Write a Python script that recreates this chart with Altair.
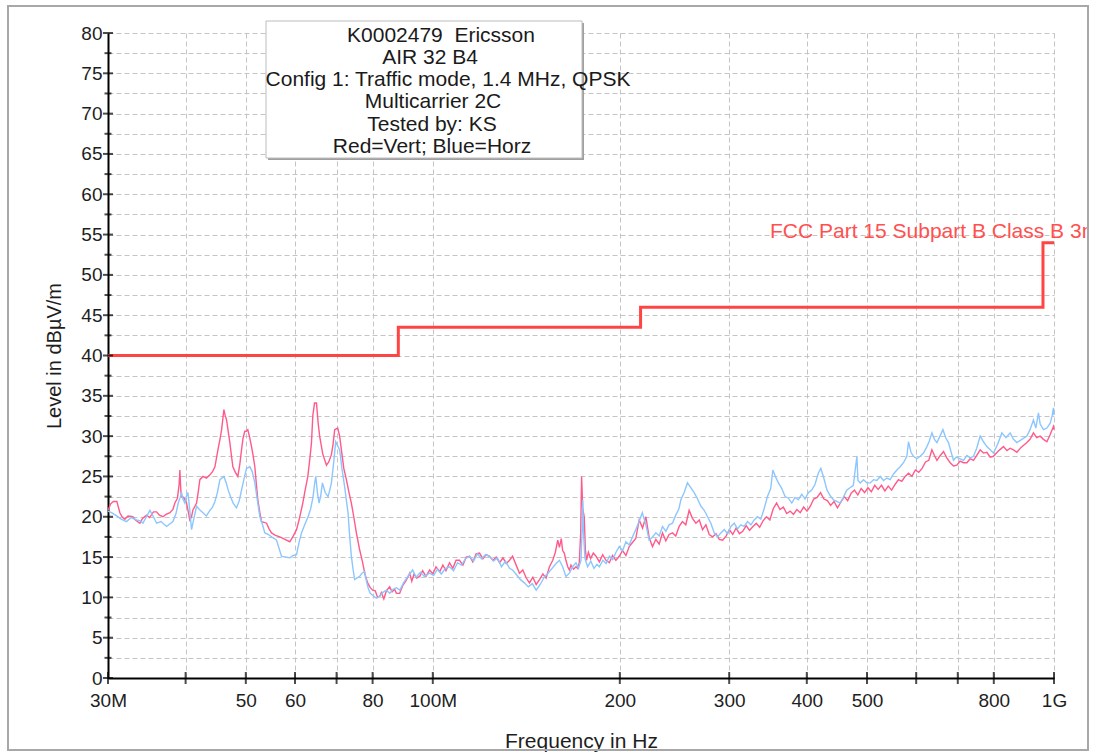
import altair as alt
import pandas as pd

# ---------------- data (MHz, dBuV/m) ----------------
VERT_F = [30.0, 30.3, 30.6, 31.0, 31.35, 31.6, 31.93, 32.3, 32.89, 33.2, 33.76, 34.1, 34.61, 35.0, 35.5, 35.92,
          36.3, 36.77, 37.2, 37.74, 38.16, 38.44, 38.8, 39.05, 39.16, 39.3, 39.41, 39.7, 40.14, 40.4, 40.63, 40.89,
          41.09, 41.4, 41.66, 41.9, 42.17, 42.65, 43.2, 43.77, 44.2, 44.59, 45.09, 45.43, 45.71, 46.1, 46.3, 46.56,
          46.84, 47.13, 47.4, 47.66, 48.1, 48.54, 48.9, 49.21, 49.5, 49.82, 50.1, 50.37, 50.7, 51.07, 51.4, 51.7,
          52.0, 52.28, 52.67, 53.0, 53.5, 54.0, 54.5, 55.0, 55.8, 56.72, 57.8, 58.86, 59.6, 60.34, 61.0, 61.76,
          62.3, 62.92, 63.4, 63.78, 64.09, 64.5, 64.97, 65.4, 65.77, 66.5, 67.42, 68.0, 68.67, 69.1, 69.51, 70.29,
          70.8, 71.26, 71.9, 72.59, 73.3, 73.94, 74.6, 75.33, 76.2, 77.1, 77.8, 78.54, 79.3, 80.01, 80.8, 81.5,
          82.12, 82.63, 83.4, 84.18, 85.22, 86.0, 86.8, 87.37, 88.44, 89.5, 90.6, 91.78, 92.5, 93.3, 94.2, 95.24,
          96.3, 97.5, 98.84, 100.0, 101.2, 102.6, 103.8, 105.0, 106.4, 107.7, 109.0, 110.4, 111.8, 113.2, 114.6,
          116.0, 117.4, 118.9, 120.4, 121.9, 123.4, 125.0, 126.5, 128.1, 129.7, 131.3, 132.9, 134.4, 136.2, 137.9,
          139.6, 141.4, 143.1, 144.9, 146.7, 148.5, 150.4, 152.2, 154.1, 156.0, 157.5, 158.9, 159.9, 161.0, 161.8,
          162.8, 163.8, 164.9, 165.9, 166.9, 168.5, 170.0, 171.1, 172.1, 173.0, 173.6, 174.3, 175.3, 176.0, 176.8,
          178.0, 179.5, 181.3, 183.1, 185.4, 187.7, 190.0, 192.4, 194.7, 197.1, 199.6, 202.0, 204.6, 207.1, 209.6,
          212.2, 214.9, 217.6, 220.3, 223.0, 225.8, 228.6, 231.4, 234.3, 237.2, 240.1, 243.1, 246.1, 249.2, 252.3,
          255.4, 258.6, 261.8, 265.2, 268.5, 271.8, 275.2, 278.6, 282.1, 285.6, 289.2, 292.8, 296.5, 300.2, 304.0,
          307.8, 311.6, 315.5, 319.5, 323.5, 327.6, 331.7, 335.9, 340.1, 344.4, 348.8, 353.2, 357.6, 362.1, 366.7,
          371.3, 376.0, 380.7, 385.5, 390.4, 395.3, 400.3, 405.3, 410.4, 415.6, 420.9, 426.2, 431.6, 437.0, 442.5,
          448.1, 453.8, 459.6, 465.4, 471.3, 477.2, 483.2, 489.3, 495.5, 501.8, 508.1, 514.5, 521.0, 527.6, 534.3,
          541.0, 547.8, 554.8, 561.8, 568.8, 576.0, 583.3, 590.6, 598.1, 605.6, 613.3, 621.0, 628.8, 636.0, 642.0,
          648.0, 656.0, 664.0, 672.0, 680.6, 689.0, 697.7, 706.0, 715.0, 724.1, 733.0, 742.0, 751.0, 760.6, 770.0,
          779.7, 789.3, 799.0, 812.0, 829.2, 840.0, 850.0, 860.5, 871.4, 885.0, 904.3, 915.0, 926.6, 938.0, 950.0,
          961.7, 974.0, 986.0, 998.0, 1000.0]
VERT_V = [20.8, 21.6, 21.9, 21.9, 20.5, 20.0, 19.7, 20.1, 20.0, 19.6, 19.2, 19.8, 20.2, 19.9, 20.6, 20.6,
          20.2, 20.0, 20.3, 20.5, 20.9, 21.7, 22.3, 24.0, 25.8, 23.2, 22.5, 22.4, 21.7, 20.6, 19.6, 20.0,
          20.8, 21.3, 21.7, 23.0, 24.6, 25.0, 24.8, 25.2, 25.6, 26.2, 28.3, 29.6, 30.8, 33.3, 32.6, 32.0,
          30.6, 29.2, 27.6, 26.2, 25.5, 25.0, 26.5, 28.3, 29.8, 30.6, 30.6, 30.8, 29.9, 28.7, 27.5, 26.2,
          24.0, 22.1, 20.5, 19.4, 19.3, 19.2, 18.5, 18.0, 17.7, 17.5, 17.2, 16.9, 17.6, 18.4, 19.8, 21.7,
          23.3, 25.0, 27.2, 29.2, 32.5, 34.1, 34.1, 31.5, 29.9, 27.8, 26.4, 26.8, 27.7, 29.0, 30.8, 31.0,
          30.0, 28.3, 26.0, 24.6, 23.0, 21.7, 20.0, 18.0, 16.0, 14.3, 12.8, 11.8, 11.2, 10.9, 10.8, 10.0,
          10.1, 10.6, 9.8, 10.8, 11.3, 10.7, 11.0, 10.5, 10.5, 11.5, 12.1, 13.0, 12.0, 12.9, 12.4, 12.6,
          13.3, 12.6, 13.4, 12.9, 13.8, 13.2, 14.0, 13.3, 14.3, 13.6, 14.6, 14.6, 14.0, 15.0, 15.1,
          14.4, 15.4, 15.5, 14.8, 15.3, 15.1, 14.6, 15.0, 14.3, 14.9, 14.2, 14.6, 15.1, 14.0, 13.0,
          13.4, 12.4, 11.8, 12.5, 11.6, 12.2, 12.9, 12.4, 13.8, 14.6, 15.6, 17.1, 16.2, 17.3, 15.8,
          15.5, 14.6, 13.8, 13.4, 14.0, 13.5, 13.8, 13.6, 14.3, 18.0, 25.0, 21.0, 20.0, 16.0, 14.6,
          15.6, 14.8, 15.5, 15.1, 14.4, 15.3, 14.6, 14.3, 15.2, 14.6, 15.1, 15.8, 15.2, 16.3, 16.8,
          17.3, 19.6, 18.6, 20.0, 17.4, 16.3, 17.2, 16.6, 18.0, 17.0, 17.8, 18.0, 17.6, 18.8, 19.4,
          19.0, 20.8, 19.8, 19.2, 19.6, 18.4, 19.0, 17.8, 17.5, 17.9, 17.2, 17.1, 17.6, 18.4, 17.8,
          18.6, 17.9, 18.2, 18.9, 18.3, 18.8, 19.2, 18.7, 19.5, 20.0, 19.6, 21.0, 21.7, 20.9, 21.2,
          20.4, 20.7, 20.3, 20.9, 20.5, 21.2, 20.7, 21.3, 22.2, 22.4, 23.0, 22.2, 22.0, 21.4, 21.9,
          21.1, 21.8, 22.5, 22.0, 22.9, 23.3, 22.7, 23.5, 23.0, 23.6, 23.1, 23.9, 23.4, 23.9, 23.2,
          23.8, 23.3, 24.0, 24.6, 24.4, 25.0, 25.4, 25.0, 25.8, 25.5, 26.0, 26.8, 27.0, 28.3, 27.6,
          27.0, 27.6, 28.1, 27.3, 26.7, 26.3, 26.4, 26.9, 26.7, 26.7, 27.2, 27.0, 27.6, 28.3, 27.9,
          28.0, 27.4, 27.5, 28.1, 28.7, 28.2, 28.5, 28.3, 28.0, 28.6, 29.2, 29.6, 30.4, 29.8, 30.0,
          29.6, 29.3, 30.2, 31.2, 30.8]

HORZ_F = [30.0, 30.4, 30.98, 31.5, 32.13, 32.7, 33.34, 33.8, 34.14, 34.6, 35.04, 35.5, 35.92, 36.5, 37.28, 37.7,
          38.16, 38.6, 38.92, 39.2, 39.41, 39.6, 39.89, 40.1, 40.34, 40.6, 40.89, 41.2, 41.66, 42.1, 42.65, 43.2,
          43.77, 44.2, 44.59, 45.0, 45.43, 46.1, 46.5, 46.84, 47.3, 47.71, 48.31, 48.8, 49.21, 49.7, 50.13, 50.75,
          51.2, 51.7, 52.2, 52.67, 53.2, 53.65, 54.4, 55.0, 55.6, 56.03, 56.6, 57.07, 57.9, 58.86, 59.6, 60.34,
          60.9, 61.46, 62.2, 62.98, 63.6, 64.16, 64.5, 64.8, 65.2, 65.6, 66.0, 66.42, 67.1, 67.82, 68.3, 68.67,
          69.2, 69.77, 70.3, 70.81, 71.4, 72.13, 72.6, 73.03, 73.5, 73.94, 74.4, 74.85, 75.5, 76.25, 76.9, 77.67,
          78.2, 78.8, 79.3, 80.2, 81.12, 82.12, 83.0, 84.18, 85.22, 86.3, 87.37, 88.5, 89.7, 91.0, 92.8, 94.0,
          95.5, 96.9, 98.84, 100.3, 101.7, 103.2, 104.8, 106.4, 108.0, 109.6, 111.2, 112.9, 114.6, 116.3, 118.0,
          119.8, 121.6, 123.4, 125.2, 127.1, 129.0, 130.9, 132.9, 134.4, 136.4, 138.4, 140.4, 142.5, 144.6, 146.7,
          148.9, 151.1, 153.3, 155.6, 157.9, 159.9, 161.8, 163.8, 165.9, 167.9, 170.0, 171.6, 173.2, 174.0, 174.3,
          174.8, 175.8, 177.5, 179.6, 181.7, 183.8, 185.4, 187.8, 190.1, 192.4, 194.8, 197.2, 199.6, 202.1, 204.6,
          207.1, 209.6, 212.2, 214.8, 217.4, 220.3, 223.0, 225.8, 228.6, 231.4, 234.3, 237.2, 240.1, 243.1, 246.1,
          249.0, 250.8, 253.9, 257.0, 260.2, 263.5, 266.8, 270.2, 273.5, 276.9, 280.3, 283.8, 287.3, 290.9, 294.5,
          298.2, 301.9, 305.6, 309.4, 313.2, 317.1, 321.1, 325.1, 329.1, 333.2, 337.3, 341.5, 345.7, 349.9, 352.7,
          356.0, 360.1, 364.6, 369.1, 373.7, 378.3, 383.0, 387.7, 392.5, 397.4, 402.3, 407.3, 412.3, 417.4, 421.4,
          426.0, 431.1, 436.4, 441.6, 447.0, 452.5, 458.1, 463.7, 469.5, 475.3, 481.6, 483.5, 487.6, 493.6, 499.8,
          506.0, 512.2, 518.5, 525.1, 531.6, 538.2, 544.9, 551.6, 558.6, 565.4, 572.4, 579.6, 583.1, 588.5, 594.0,
          601.6, 609.0, 616.5, 624.3, 630.0, 636.0, 642.0, 648.0, 655.2, 662.5, 669.4, 676.4, 683.0, 689.0, 696.0,
          705.0, 715.0, 724.1, 733.0, 742.0, 751.0, 760.6, 770.0, 779.7, 789.3, 799.0, 811.5, 824.2, 837.0, 850.0,
          860.5, 871.4, 887.7, 904.3, 915.0, 926.6, 935.0, 944.0, 950.0, 961.7, 974.0, 986.0, 993.0, 998.0, 1000.0]
HORZ_V = [20.7, 20.5, 20.1, 19.7, 19.4, 19.9, 19.6, 19.5, 19.2, 20.0, 20.8, 20.0, 19.2, 19.4, 18.8, 19.1,
          19.4, 20.4, 21.7, 22.4, 23.0, 22.2, 21.7, 22.5, 23.0, 21.0, 18.4, 19.6, 21.3, 20.9, 20.5, 20.1,
          20.8, 21.2, 21.9, 23.0, 24.6, 25.0, 24.2, 23.3, 22.4, 21.7, 21.1, 22.0, 23.3, 24.8, 26.0, 26.2,
          25.6, 24.2, 22.0, 20.0, 19.0, 18.0, 17.8, 17.5, 17.3, 17.1, 16.0, 15.1, 15.0, 14.9, 15.2, 15.3,
          16.8, 18.0, 19.0, 20.0, 21.0, 22.5, 24.0, 25.0, 23.0, 21.7, 22.6, 24.2, 23.0, 22.5, 23.4, 24.2,
          26.5, 29.3, 28.8, 28.3, 26.0, 23.7, 22.0, 20.5, 17.5, 15.1, 13.5, 12.2, 12.4, 12.6, 13.0, 13.2,
          12.0, 11.0, 10.5, 10.2, 9.9, 10.1, 10.6, 10.9, 10.5, 11.0, 11.2, 10.9, 11.8, 12.5, 13.4, 12.5,
          13.1, 12.6, 13.0, 12.7, 13.5, 12.9, 13.6, 13.8, 13.3, 14.3, 14.0, 14.8, 15.1, 14.5, 15.4,
          14.8, 15.3, 15.1, 14.5, 14.9, 13.8, 14.5, 13.6, 13.4, 12.8, 12.2, 11.8, 11.3, 11.7, 10.9,
          11.6, 12.5, 13.0, 13.6, 14.2, 14.6, 13.8, 12.6, 13.0, 13.8, 14.3, 13.6, 14.6, 19.0, 22.1,
          18.0, 14.8, 13.8, 14.5, 13.6, 14.1, 13.8, 14.6, 14.2, 15.1, 14.7, 15.6, 16.3, 15.8, 16.9,
          16.5, 17.5, 18.4, 19.4, 20.5, 19.0, 17.1, 17.5, 18.0, 17.6, 18.8, 18.2, 19.0, 19.2, 20.2,
          21.0, 22.1, 23.0, 24.2, 23.6, 23.0, 22.2, 21.3, 20.8, 20.0, 19.2, 18.0, 17.5, 18.0, 18.4,
          17.9, 18.8, 19.2, 18.5, 19.0, 18.8, 19.4, 19.0, 19.6, 20.0, 19.7, 21.0, 22.5, 23.5, 25.8,
          25.0, 24.2, 23.5, 22.5, 22.3, 21.7, 22.4, 22.1, 22.8, 22.2, 23.0, 23.3, 24.0, 25.4, 26.0,
          24.8, 23.3, 22.6, 22.1, 21.9, 21.7, 22.4, 23.3, 23.6, 23.9, 27.5, 24.5, 24.2, 24.6, 24.2,
          24.2, 24.6, 24.5, 25.0, 24.5, 24.8, 24.6, 25.3, 25.8, 26.2, 26.7, 27.5, 29.3, 28.0, 27.5,
          27.2, 27.5, 27.9, 28.7, 29.4, 30.4, 29.6, 29.2, 30.0, 30.8, 29.8, 29.2, 28.0, 27.0, 27.4,
          27.2, 27.0, 27.6, 27.3, 27.5, 28.5, 30.0, 29.3, 28.7, 28.3, 27.9, 29.0, 30.4, 29.8, 30.4,
          29.6, 29.2, 29.6, 30.0, 30.8, 32.0, 31.0, 32.9, 31.5, 30.8, 31.0, 31.6, 32.5, 33.5, 32.6]

LIMIT_F = [30, 88, 216, 960, 1000]
LIMIT_V = [40, 43.5, 46, 54, 54]
LIMIT_LABEL = "FCC Part 15 Subpart B Class B 3m"
LIMIT_LABEL_F = 349
LIMIT_LABEL_V = 55.3

X_TICKS = [30, 40, 50, 60, 70, 80, 100, 200, 300, 400, 500, 600, 700, 800, 1000]
X_TICK_LABELS = ["30M", "", "50", "60", "", "80", "100M", "200", "300", "400", "500", "", "", "800", "1G"]
Y_TICKS = [0, 2.5, 5, 7.5, 10, 12.5, 15, 17.5, 20, 22.5, 25, 27.5, 30, 32.5, 35, 37.5, 40, 42.5, 45,
           47.5, 50, 52.5, 55, 57.5, 60, 62.5, 65, 67.5, 70, 72.5, 75, 77.5, 80]

BOX_LINES = ["K0002479\u00a0 Ericsson", "AIR 32 B4", "Config 1: Traffic mode, 1.4 MHz, QPSK",
             "Multicarrier 2C", "Tested by: KS", "Red=Vert; Blue=Horz"]

# ---------------- styling / layout ----------------
FONT = "Liberation Sans"
RED = "#ff5a8a"
BLUE = "#8cc6ff"
LIMIT_RED = "#ff4444"
W, H = 946, 645

xs = alt.Scale(type="log", domain=[30, 1000], nice=False)
ys = alt.Scale(domain=[0, 80], nice=False, zero=False)

x_label_expr = " : ".join(
    f"datum.value == {v} ? '{l}'" for v, l in zip(X_TICKS, X_TICK_LABELS)) + " : ''"

x_axis = alt.Axis(values=X_TICKS, labelExpr=x_label_expr, grid=True, gridDash=[5, 3],
                  gridColor="#c4c4c4", gridWidth=1, ticks=False, domainColor="black",
                  domainWidth=2, labelFont=FONT, labelFontSize=19, labelColor="#1e1e1e",
                  labelPadding=13, labelFlush=False, labelOverlap=False,
                  title="Frequency in Hz", titleFont=FONT, titleFontSize=21,
                  titleFontWeight="normal", titleColor="#1e1e1e", titleY=52, titleBaseline="top")
y_axis = alt.Axis(values=Y_TICKS, labelExpr="datum.value % 5 == 0 ? datum.label : ''",
                  grid=True, gridDash=[5, 3], gridColor="#c4c4c4", gridWidth=1, ticks=False,
                  domainColor="black", domainWidth=2, labelFont=FONT, labelFontSize=19,
                  labelColor="#1e1e1e", labelPadding=6, labelOverlap=False, labelFlush=False,
                  title="Level in dBµV/m", titleFont=FONT, titleFontSize=20,
                  titleFontWeight="normal", titleColor="#1e1e1e", titleX=-48,
                  titleBaseline="alphabetic")

X_ENC = alt.X("f:Q", scale=xs, axis=x_axis)
Y_ENC = alt.Y("v:Q", scale=ys, axis=y_axis)

vert_df = pd.DataFrame({"f": VERT_F, "v": VERT_V})
horz_df = pd.DataFrame({"f": HORZ_F, "v": HORZ_V})
limit_df = pd.DataFrame({"f": LIMIT_F, "v": LIMIT_V})
ytick_df = pd.DataFrame({"v": Y_TICKS, "major": [t % 5 == 0 for t in Y_TICKS]})
xtick_df = pd.DataFrame({"f": X_TICKS})
one = pd.DataFrame({"a": [0]})

vert = alt.Chart(vert_df).mark_line(color=RED, strokeWidth=1.4).encode(x=X_ENC, y=Y_ENC)
horz = alt.Chart(horz_df).mark_line(color=BLUE, strokeWidth=1.4).encode(x=X_ENC, y=Y_ENC)
limit = alt.Chart(limit_df).mark_line(color=LIMIT_RED, strokeWidth=3,
                                      interpolate="step-after").encode(x=X_ENC, y=Y_ENC)

yticks = alt.Chart(ytick_df).mark_tick(orient="horizontal", color="black", thickness=2).encode(
    y=Y_ENC,
    x=alt.value(0),
    size=alt.condition("datum.major", alt.value(10), alt.value(7)))
xticks = alt.Chart(xtick_df).mark_tick(orient="vertical", color="black", thickness=2).encode(
    x=X_ENC,
    y=alt.value(H),
    size=alt.value(12))

limit_label = alt.Chart(pd.DataFrame({"f": [LIMIT_LABEL_F], "v": [LIMIT_LABEL_V], "t": [LIMIT_LABEL]})).mark_text(
    align="left", baseline="middle", font=FONT, fontSize=21, color="#ff5050").encode(
    x=X_ENC, y=Y_ENC, text="t:N")

# info box (pixel positions relative to plot area)
box_shadow = alt.Chart(one).mark_rect(color="#a0a0a0").encode(
    x=alt.value(160), x2=alt.value(476), y=alt.value(-10), y2=alt.value(127))
box = alt.Chart(one).mark_rect(fill="white", stroke="#bcbcbc", strokeWidth=1).encode(
    x=alt.value(158), x2=alt.value(474), y=alt.value(-12), y2=alt.value(125))
box_x = [333, 322, 340, 325, 324, 324]
box_texts = []
for i, line in enumerate(BOX_LINES):
    box_texts.append(alt.Chart(one).mark_text(
        text=line, align="center", baseline="alphabetic", font=FONT, fontSize=21,
        color="#1a1a1a").encode(x=alt.value(box_x[i]), y=alt.value(8.5 + 22.3 * i)))

cover = alt.Chart(one).mark_rect(color="white").encode(
    x=alt.value(981), x2=alt.value(1000), y=alt.value(-40), y2=alt.value(730))
frame = alt.Chart(one).mark_rect(fillOpacity=0, stroke="#a8a8a8", strokeWidth=2).encode(
    x=alt.value(-100), x2=alt.value(980), y=alt.value(-27), y2=alt.value(717))

chart = alt.layer(vert, horz, limit, yticks, xticks, box_shadow, box, *box_texts,
                  limit_label, cover, frame).properties(
    width=W, height=H,
    autosize=alt.AutoSizeParams(type="none"),
    padding={"left": 108, "top": 33, "right": 45, "bottom": 75},
    background="white",
).configure_view(stroke=None)

chart.save("out.html", embed_options={"renderer": "svg", "actions": False})
